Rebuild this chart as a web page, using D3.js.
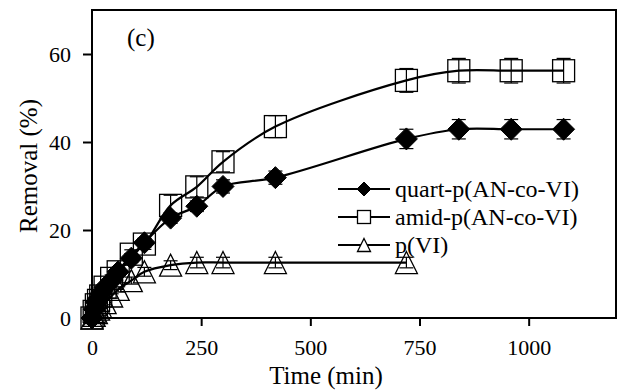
<!DOCTYPE html>
<html>
<head>
<meta charset="utf-8">
<script src="https://cdn.jsdelivr.net/npm/d3@7"></script>
<style>
  body { margin: 0; background: #fff; }
  text { font-family: "Liberation Serif", "Times New Roman", serif; fill: #000; }
</style>
</head>
<body>
<svg id="chart" width="623" height="392"></svg>
<script>
const svg = d3.select('#chart');

// time points (min)
const times = [0, 5, 10, 15, 20, 30, 45, 60, 90, 120, 180, 240, 300, 420, 720, 840, 960, 1080];
const timesVI = [0, 5, 10, 15, 20, 30, 45, 60, 90, 120, 180, 240, 300, 420, 720];

// removal (%)
const quartValues = [0, 2, 3.5, 4.5, 5.5, 7, 8.5, 10.5, 13.6, 17.1, 22.7, 25.4, 29.9, 31.9, 40.7, 42.9, 42.9, 42.9];
const quartErrors = [0.5, 0.5, 0.5, 0.5, 0.5, 0.6, 0.6, 0.8, 1, 1, 1.2, 1.2, 1.5, 1.5, 2.2, 2.2, 2.2, 2.2];
const amidValues = [0, 1.5, 3, 4, 5, 7, 9, 10.5, 14.5, 16.8, 25.6, 29.8, 35.5, 43.5, 54, 56.2, 56.2, 56.2];
const amidErrors = [0.5, 0.5, 0.5, 0.5, 0.5, 0.6, 0.8, 1, 1, 1.2, 2.3, 2.3, 2.3, 2.5, 2.7, 2.8, 2.8, 2.8];
const viValues = [0, 0.6, 1.2, 2, 2.5, 3.5, 5, 6.5, 8.5, 10.5, 12, 12.6, 12.6, 12.6, 12.6];
const viErrors = [0.3, 0.3, 0.3, 0.3, 0.3, 0.5, 0.5, 0.6, 0.8, 1, 1, 1.2, 1.2, 1.2, 1.2];

const xTicks = [0, 250, 500, 750, 1000];
const yTicks = [0, 20, 40, 60];
const seriesNames = ['quart-p(AN-co-VI)', 'amid-p(AN-co-VI)', 'p(VI)'];

const serif = '"Liberation Serif", "Times New Roman", serif';
const margin = { top: 10, right: 7, bottom: 74, left: 92 };
const width = +svg.attr('width');
const height = +svg.attr('height');
const innerWidth = width - margin.left - margin.right;
const innerHeight = height - margin.top - margin.bottom;

const xScale = d3.scaleLinear().domain([0, 1200]).range([0, innerWidth]);
const yScale = d3.scaleLinear().domain([0, 70]).range([innerHeight, 0]);

const g = svg.append('g')
  .attr('transform', `translate(${margin.left}, ${margin.top})`);

// axes
const yAxis = g.append('g')
  .call(d3.axisLeft(yScale).tickValues(yTicks).tickFormat(d3.format('d')).tickSize(9).tickPadding(12));
const xAxis = g.append('g')
  .attr('transform', `translate(0, ${innerHeight})`)
  .call(d3.axisBottom(xScale).tickValues(xTicks).tickFormat(d3.format('d')).tickSize(8));
[xAxis, yAxis].forEach(a => {
  a.attr('font-family', serif).attr('font-size', 22);
  a.select('.domain').remove();
  a.selectAll('line').attr('stroke', '#000').attr('stroke-width', 2);
  a.selectAll('text').attr('fill', '#000').attr('dy', null);
});
xAxis.selectAll('text').attr('y', 37);
yAxis.selectAll('text').attr('y', 7.5);

// frame
g.append('rect')
  .attr('width', innerWidth)
  .attr('height', innerHeight)
  .attr('fill', 'none')
  .attr('stroke', '#000')
  .attr('stroke-width', 2);

const series = [
  { name: seriesNames[2], t: timesVI, v: viValues, e: viErrors, shape: 'triangle' },
  { name: seriesNames[1], t: times, v: amidValues, e: amidErrors, shape: 'square' },
  { name: seriesNames[0], t: times, v: quartValues, e: quartErrors, shape: 'diamond' }
];

const line = d3.line()
  .x(d => xScale(d.t))
  .y(d => yScale(d.v))
  .curve(d3.curveCatmullRom.alpha(0.5));

const drawMarker = (sel, shape, s, fill) => {
  if (shape === 'diamond') {
    sel.append('path').attr('d', `M0,${-s}L${s},0L0,${s}L${-s},0Z`)
      .attr('fill', '#000').attr('stroke', '#000');
  } else if (shape === 'square') {
    sel.append('rect').attr('x', -s).attr('y', -s).attr('width', 2 * s).attr('height', 2 * s)
      .attr('fill', fill).attr('stroke', '#000').attr('stroke-width', 1.3);
  } else {
    sel.append('path').attr('d', `M0,${-s}L${s},${s}L${-s},${s}Z`)
      .attr('fill', fill).attr('stroke', '#000').attr('stroke-width', 1.3);
  }
};

series.forEach(s => {
  const pts = s.t.map((t, i) => ({ t, v: s.v[i], e: s.e[i] }));
  g.append('path')
    .datum(pts)
    .attr('d', line)
    .attr('fill', 'none')
    .attr('stroke', '#000')
    .attr('stroke-width', 2.2);

  const m = g.append('g').selectAll('g').data(pts)
    .enter().append('g')
    .attr('transform', d => `translate(${xScale(d.t)}, ${yScale(d.v)})`);
  m.each(function () { drawMarker(d3.select(this), s.shape, 11, 'none'); });

  // error bars
  const eb = g.append('g').selectAll('g').data(pts)
    .enter().append('g')
    .attr('stroke', '#000')
    .attr('stroke-width', 1.2);
  eb.append('line')
    .attr('x1', d => xScale(d.t)).attr('x2', d => xScale(d.t))
    .attr('y1', d => yScale(d.v + d.e)).attr('y2', d => yScale(d.v - d.e));
  eb.append('line')
    .attr('x1', d => xScale(d.t) - 7).attr('x2', d => xScale(d.t) + 7)
    .attr('y1', d => yScale(d.v + d.e)).attr('y2', d => yScale(d.v + d.e));
  eb.append('line')
    .attr('x1', d => xScale(d.t) - 7).attr('x2', d => xScale(d.t) + 7)
    .attr('y1', d => yScale(d.v - d.e)).attr('y2', d => yScale(d.v - d.e));
});

// legend
const legend = g.append('g').attr('transform', 'translate(246, 179)');
[series[2], series[1], series[0]].forEach((s, i) => {
  const row = legend.append('g').attr('transform', `translate(0, ${i * 28})`);
  row.append('line').attr('x1', 0).attr('x2', 52)
    .attr('stroke', '#000').attr('stroke-width', 2.2);
  const mk = row.append('g').attr('transform', 'translate(26, 0)');
  drawMarker(mk, s.shape, s.shape === 'diamond' ? 7 : 6.5, '#fff');
  row.append('text').attr('x', 57).attr('y', 8).attr('font-size', '24px').text(s.name);
});

// panel label
g.append('text').attr('x', 35).attr('y', 36).attr('font-size', '25px').text('(c)');

// axis titles
svg.append('text')
  .attr('x', 326).attr('y', 384)
  .attr('text-anchor', 'middle')
  .attr('font-size', '25px')
  .text('Time (min)');
svg.append('text')
  .attr('transform', 'translate(37, 166) rotate(-90)')
  .attr('text-anchor', 'middle')
  .attr('font-size', '25px')
  .text('Removal (%)');
</script>
</body>
</html>
